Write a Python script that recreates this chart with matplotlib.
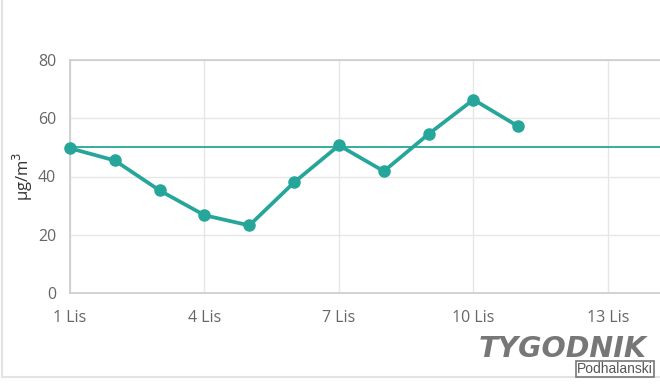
import matplotlib
matplotlib.use("Agg")

import matplotlib.pyplot as plt
from matplotlib.lines import Line2D

days = [1, 2, 3, 4, 5, 6, 7, 8, 9, 10, 11]
pm10 = [49.7, 45.5, 35.2, 26.7, 23.2, 38.0, 50.7, 41.8, 54.6, 66.4, 57.2]
norm = 50
xticks = [1, 4, 7, 10, 13]
xlabels = ["1 Lis", "4 Lis", "7 Lis", "10 Lis", "13 Lis"]
yticks = [0, 20, 40, 60, 80]

plt.rcParams["font.family"] = ["Open Sans", "DejaVu Sans"]

teal = "#26a69a"
W, H = 660, 384

fig = plt.figure(figsize=(6.6, 3.84), dpi=100)
ax = fig.add_axes([70 / W, (H - 293) / H, (W - 70) / W, (293 - 60) / H])

ax.plot(days, pm10, color=teal, lw=2.7, marker="o", ms=8, zorder=3, clip_on=False)
ax.axhline(norm, color=teal, lw=1.3, zorder=2)

ax.set_xlim(1, 14.16)
ax.set_ylim(0, 80)
ax.set_xticks(xticks)
ax.set_xticklabels(xlabels)
ax.set_yticks(yticks)
ax.grid(True, color="#e6e6e6", lw=1)
ax.set_axisbelow(True)
ax.spines["right"].set_visible(False)
for s in ["left", "bottom", "top"]:
    ax.spines[s].set_color("#cccccc")
    ax.spines[s].set_linewidth(1.2)
ax.tick_params(length=0, labelsize=11.5, labelcolor="#666666", pad=10)
ax.tick_params(axis="x", pad=12)
ax.set_ylabel("µg/m$^3$", fontsize=12, color="#333333", labelpad=2)

# card frame
fig.add_artist(Line2D([1.5 / W, 1.5 / W], [(H - 377) / H, 1], color="#e3e3e3", lw=1.5))
fig.add_artist(Line2D([1.5 / W, 1], [(H - 377) / H, (H - 377) / H], color="#e3e3e3", lw=1.5))

# watermark
fig.text(563 / W, (H - 349) / H, "TYGODNIK", fontsize=20.5, fontweight="bold", style="italic",
         color="#777777", ha="center", va="center", family="DejaVu Sans")
fig.text(615 / W, (H - 369) / H, "Podhalanski", fontsize=10, color="#555555",
         ha="center", va="center", family="Liberation Sans",
         bbox=dict(boxstyle="square,pad=0.1", fc="white", ec="#777777", lw=1.2))

fig.savefig("out.png", dpi=100)
